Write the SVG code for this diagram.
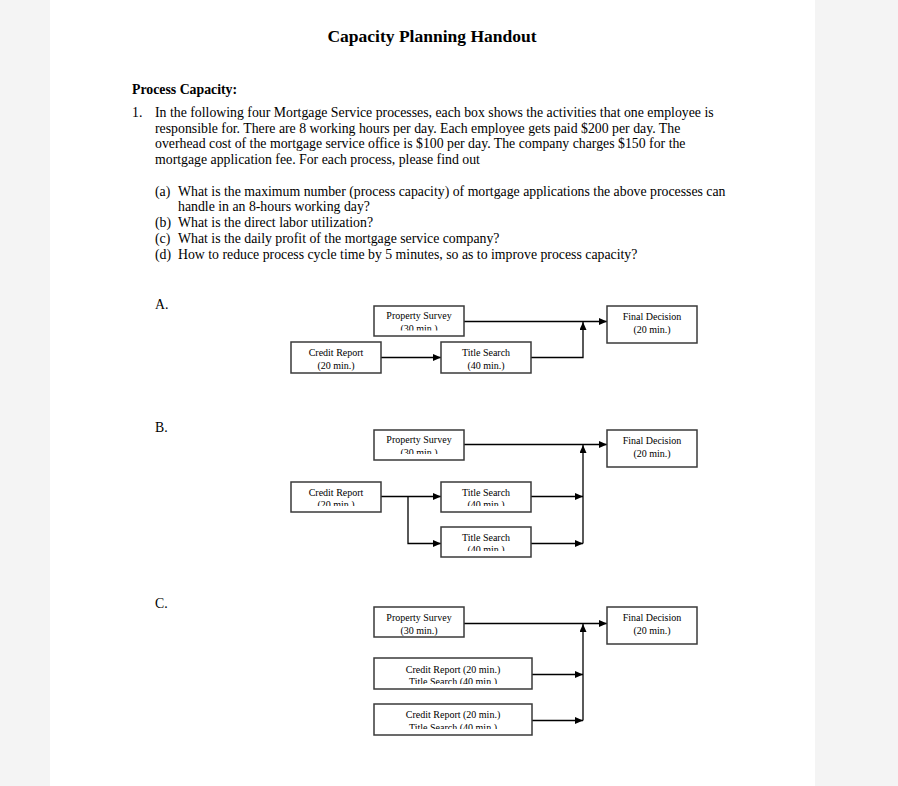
<svg xmlns="http://www.w3.org/2000/svg" width="898" height="786" viewBox="0 0 898 786">
<style>
.body{font-family:"Liberation Serif","Times New Roman",serif;font-size:13.8px;fill:#000}
.bold{font-weight:bold}
.title{font-family:"Liberation Serif","Times New Roman",serif;font-size:17.5px;font-weight:bold;fill:#000}
.box{fill:#fff;stroke:#3a3a3a;stroke-width:1.5}
.bt{font-family:"Liberation Serif","Times New Roman",serif;font-size:10px;fill:#000;text-anchor:middle}
.con{fill:none;stroke:#000;stroke-width:1.3}
</style>
<defs>
<marker id="arr" markerUnits="userSpaceOnUse" markerWidth="8" markerHeight="7" refX="8" refY="3.5" orient="auto">
<path d="M0,0 L8,3.5 L0,7 z" fill="#000"/>
</marker>
<clipPath id="cA1"><rect x="374" y="306" width="90" height="24.5"/></clipPath>
<clipPath id="cB1"><rect x="374" y="430" width="90" height="24"/></clipPath>
<clipPath id="cB2"><rect x="291" y="482" width="90" height="24"/></clipPath>
<clipPath id="cB3"><rect x="441" y="482" width="90" height="24"/></clipPath>
<clipPath id="cB4"><rect x="441" y="527" width="90" height="24"/></clipPath>
<clipPath id="cC2"><rect x="374" y="658" width="158" height="26"/></clipPath>
<clipPath id="cC3"><rect x="374" y="704" width="158" height="25"/></clipPath>
</defs>
<rect x="0" y="0" width="898" height="786" fill="#f4f4f4"/>
<rect x="50" y="0" width="765" height="786" fill="#fff"/>

<g id="text">
<text class="title" x="432" y="42" text-anchor="middle">Capacity Planning Handout</text>
<text class="body bold" x="132" y="94">Process Capacity:</text>
<text class="body" x="132" y="117">1.</text>
<text class="body" x="155" y="117">In the following four Mortgage Service processes, each box shows the activities that one employee is</text>
<text class="body" x="155" y="132.5">responsible for. There are 8 working hours per day. Each employee gets paid $200 per day. The</text>
<text class="body" x="155" y="148">overhead cost of the mortgage service office is $100 per day. The company charges $150 for the</text>
<text class="body" x="155" y="163.5">mortgage application fee. For each process, please find out</text>
<text class="body" x="155" y="195.5">(a)</text>
<text class="body" x="178" y="195.5">What is the maximum number (process capacity) of mortgage applications the above processes can</text>
<text class="body" x="178" y="211">handle in an 8-hours working day?</text>
<text class="body" x="155" y="227">(b)</text>
<text class="body" x="178" y="227">What is the direct labor utilization?</text>
<text class="body" x="155" y="242.5">(c)</text>
<text class="body" x="178" y="242.5">What is the daily profit of the mortgage service company?</text>
<text class="body" x="155" y="258.5">(d)</text>
<text class="body" x="178" y="258.5">How to reduce process cycle time by 5 minutes, so as to improve process capacity?</text>
<text class="body" x="155" y="309">A.</text>
<text class="body" x="155" y="432">B.</text>
<text class="body" x="155" y="608">C.</text>
</g>

<g id="connectors">
<line class="con" x1="464" y1="321.5" x2="607" y2="321.5" marker-end="url(#arr)"/>
<line class="con" x1="381" y1="357.5" x2="441" y2="357.5" marker-end="url(#arr)"/>
<polyline class="con" points="531,357.5 583,357.5 583,322" marker-end="url(#arr)"/>

<line class="con" x1="464" y1="444.5" x2="607" y2="444.5" marker-end="url(#arr)"/>
<line class="con" x1="381" y1="496.5" x2="441" y2="496.5" marker-end="url(#arr)"/>
<polyline class="con" points="408,496.5 408,543.5 441,543.5" marker-end="url(#arr)"/>
<line class="con" x1="531" y1="496.5" x2="583" y2="496.5" marker-end="url(#arr)"/>
<line class="con" x1="531" y1="543.5" x2="583" y2="543.5" marker-end="url(#arr)"/>
<line class="con" x1="583" y1="543.5" x2="583" y2="445" marker-end="url(#arr)"/>

<line class="con" x1="464" y1="623.5" x2="607" y2="623.5" marker-end="url(#arr)"/>
<line class="con" x1="532" y1="674.5" x2="583" y2="674.5" marker-end="url(#arr)"/>
<line class="con" x1="532" y1="720.5" x2="583" y2="720.5" marker-end="url(#arr)"/>
<line class="con" x1="583" y1="720.5" x2="583" y2="624" marker-end="url(#arr)"/>
</g>

<g id="A-property-survey">
<rect class="box" x="374" y="306" width="90" height="30"/>
<g clip-path="url(#cA1)"><text class="bt" x="419" y="319">Property Survey</text><text class="bt" x="419" y="332">(30 min.)</text></g>
</g>
<g id="A-final-decision">
<rect class="box" x="607" y="306" width="90" height="37"/>
<text class="bt" x="652" y="320">Final Decision</text><text class="bt" x="652" y="332.5">(20 min.)</text>
</g>
<g id="A-credit-report">
<rect class="box" x="291" y="342" width="90" height="31"/>
<text class="bt" x="336" y="356">Credit Report</text><text class="bt" x="336" y="368.5">(20 min.)</text>
</g>
<g id="A-title-search">
<rect class="box" x="441" y="342" width="90" height="31"/>
<text class="bt" x="486" y="356">Title Search</text><text class="bt" x="486" y="368.5">(40 min.)</text>
</g>

<g id="B-property-survey">
<rect class="box" x="374" y="430" width="90" height="30"/>
<g clip-path="url(#cB1)"><text class="bt" x="419" y="443">Property Survey</text><text class="bt" x="419" y="456">(30 min.)</text></g>
</g>
<g id="B-final-decision">
<rect class="box" x="607" y="430" width="90" height="37"/>
<text class="bt" x="652" y="444">Final Decision</text><text class="bt" x="652" y="456.5">(20 min.)</text>
</g>
<g id="B-credit-report">
<rect class="box" x="291" y="482" width="90" height="30"/>
<g clip-path="url(#cB2)"><text class="bt" x="336" y="495.5">Credit Report</text><text class="bt" x="336" y="508">(20 min.)</text></g>
</g>
<g id="B-title-search-1">
<rect class="box" x="441" y="482" width="90" height="30"/>
<g clip-path="url(#cB3)"><text class="bt" x="486" y="495.5">Title Search</text><text class="bt" x="486" y="508">(40 min.)</text></g>
</g>
<g id="B-title-search-2">
<rect class="box" x="441" y="527" width="90" height="30"/>
<g clip-path="url(#cB4)"><text class="bt" x="486" y="540.5">Title Search</text><text class="bt" x="486" y="553">(40 min.)</text></g>
</g>

<g id="C-property-survey">
<rect class="box" x="374" y="607" width="90" height="30"/>
<text class="bt" x="419" y="621">Property Survey</text><text class="bt" x="419" y="633.5">(30 min.)</text>
</g>
<g id="C-final-decision">
<rect class="box" x="607" y="607" width="90" height="37"/>
<text class="bt" x="652" y="621">Final Decision</text><text class="bt" x="652" y="633.5">(20 min.)</text>
</g>
<g id="C-credit-title-1">
<rect class="box" x="374" y="658" width="158" height="31"/>
<g clip-path="url(#cC2)"><text class="bt" x="453" y="672.5">Credit Report (20 min.)</text><text class="bt" x="453" y="685">Title Search (40 min.)</text></g>
</g>
<g id="C-credit-title-2">
<rect class="box" x="374" y="704" width="158" height="31"/>
<g clip-path="url(#cC3)"><text class="bt" x="453" y="718">Credit Report (20 min.)</text><text class="bt" x="453" y="730.5">Title Search (40 min.)</text></g>
</g>
</svg>
